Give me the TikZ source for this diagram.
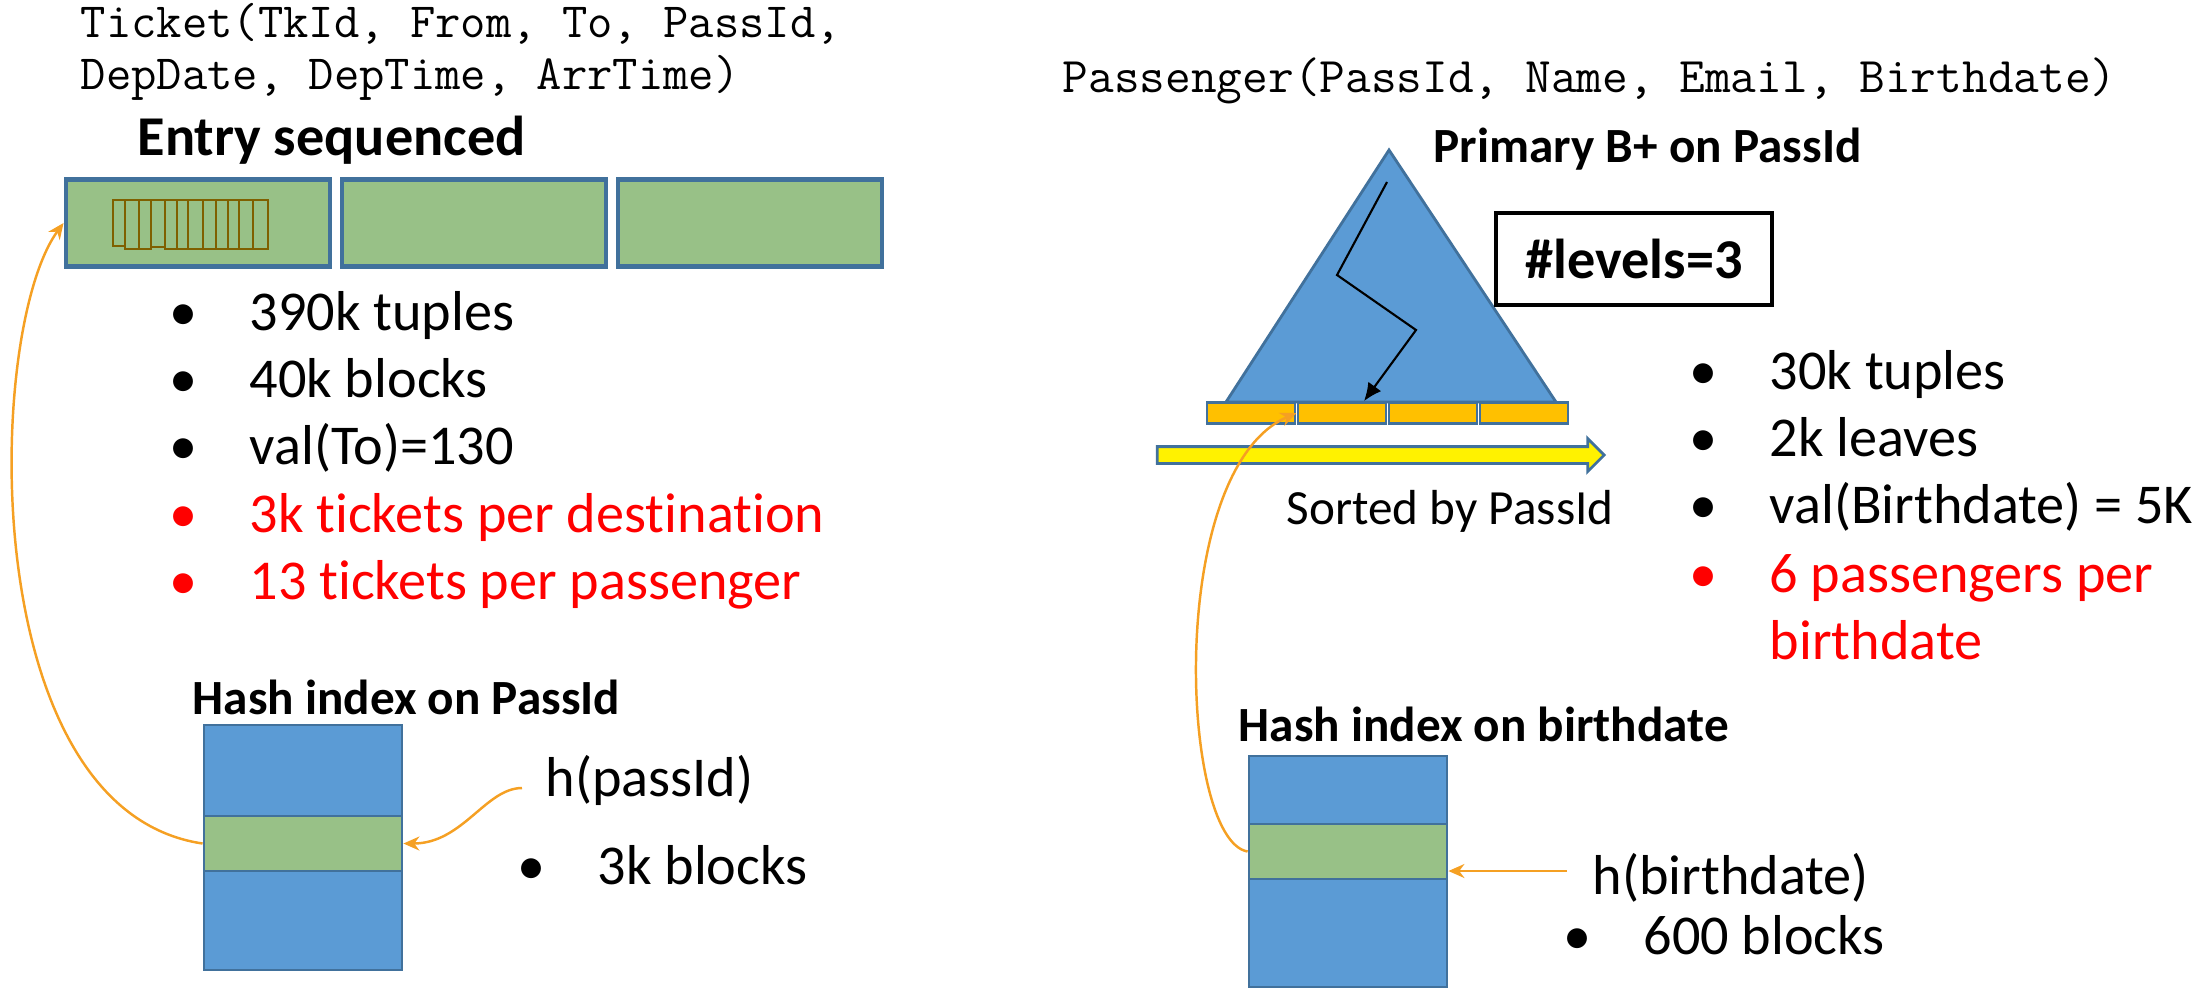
\documentclass[tikz,border=0pt]{standalone}
\usepackage{fontspec}
\setmainfont{Carlito}[Ligatures=NoCommon]
\usepackage{tikz}
\usetikzlibrary{positioning,shapes.arrows,arrows.meta}

\definecolor{rimblue}{RGB}{65,113,156}
\definecolor{treeblue}{RGB}{91,155,213}
\definecolor{pagegreen}{RGB}{152,193,135}
\definecolor{leafgold}{RGB}{255,192,0}
\definecolor{ptrorange}{RGB}{245,160,35}
\definecolor{tupleolive}{RGB}{127,96,0}

\newcommand{\bul}{\llap{\textbullet\hspace{5.2mm}}}

\tikzset{
  schema/.style={anchor=west, inner sep=0pt, font=\fontsize{14}{16}\ttfamily, text height=0.7em, text depth=0.2em},
  heading/.style={anchor=west, inner sep=0pt, font=\fontsize{14}{16}\bfseries, text height=0.7em, text depth=0.2em},
  fact/.style={anchor=west, inner sep=0pt, font=\fontsize{16}{19}\selectfont, text height=0.7em, text depth=0.2em},
  page/.style={draw=rimblue, line width=1.4pt, fill=pagegreen, minimum width=26.4mm, minimum height=8.7mm, inner sep=0pt},
  bucket/.style={draw=rimblue, line width=0.8pt, fill=treeblue, minimum width=19.8mm, inner sep=0pt},
  slot/.style={draw=rimblue, line width=0.8pt, fill=pagegreen, minimum width=19.8mm, minimum height=5.5mm, inner sep=0pt},
  leaf/.style={draw=rimblue, line width=0.8pt, fill=leafgold, minimum width=8.8mm, minimum height=2.1mm, inner sep=0pt},
  ptr/.style={draw=ptrorange, line width=0.7pt, -{Stealth[length=1.6mm,width=1.4mm]}},
}

\begin{document}
\begin{tikzpicture}[x=0.1mm, y=-0.1mm]
\useasboundingbox (0,0) rectangle (2196,1000);

% Ticket file, entry sequenced
\node[schema] (tkt1) at (80,29) {Ticket(TkId, From, To, PassId,};
\node[schema] (tkt2) at (80,81) {DepDate, DepTime, ArrTime)};
\node[heading, font=\fontsize{16}{18}\bfseries] (entry) at (137,147) {Entry sequenced};
\node[page] (pg1) at (198,223) {};
\node[page, on grid, right=27.6mm of pg1] (pg2) {};
\node[page, on grid, right=27.6mm of pg2] (pg3) {};
\foreach \a/\b/\d in {113/125/246, 125/139/249, 139/151/249, 151/165/247, 165/177/249, 177/188/249,
                      188/203/249, 203/216/249, 216/228/249, 228/239/249, 239/253/249, 253/268/249}
  \draw[tupleolive, line width=0.4pt] (\a,200) rectangle (\b,\d);

\foreach \c/\t [count=\i] in {black/390k tuples, black/40k blocks, black/val(To)=130,
                              red/3k tickets per destination, red/13 tickets per passenger}
  \node[fact, text=\c] (tf\i) at (249,254+67.3*\i) {\bul\t};

% hash index on PassId
\node[heading] (hashL) at (192,706) {Hash index on PassId};
\node[bucket, minimum height=24.5mm] (bktL) at (303,847.5) {};
\node[slot] (slotL) at (303,843.5) {};
\node[fact] (hpass) at (545,788) {h(passId)};
\node[fact] (blkL) at (597,876) {\bul 3k blocks};
\draw[ptr, shorten <=2.3mm] (hpass.west) to[out=180, in=0] (slotL.east);
\draw[ptr] (slotL.west) .. controls (-25,810) and (-15,330) .. (pg1.west);

% Passenger file, primary B+ tree
\node[schema, font=\fontsize{14.2}{16}\ttfamily] (pass) at (1062,84) {Passenger(PassId, Name, Email, Birthdate)};
\node[heading] (prim) at (1433,154) {Primary B+ on PassId};
\coordinate (apex) at (1389,150);
\coordinate (baseL) at (1226,402);
\coordinate (baseR) at (1556,402);
\draw[rimblue, fill=treeblue, line width=0.8pt] (apex) -- (baseL) -- (baseR) -- cycle;
\node[draw=black, line width=1pt, fill=white, minimum width=27.6mm, minimum height=9.2mm,
      font=\fontsize{16}{19}\bfseries] (lvls) at (1634,259) {\#levels=3};
\node[leaf] (lf1) at (1251,413) {};
\node[leaf, on grid, right=9.1mm of lf1] (lf2) {};
\node[leaf, on grid, right=9.1mm of lf2] (lf3) {};
\node[leaf, on grid, right=9.1mm of lf3] (lf4) {};
\coordinate (root) at (1387,182);
\coordinate (inner1) at (1337,275);
\coordinate (inner2) at (1416,330);
\draw[line width=0.6pt, -{Latex[length=1.8mm,width=1.6mm]}] (root) -- (inner1) -- (inner2) -- ([xshift=2.2mm]lf2.north);
\node[single arrow, draw=rimblue, fill=yellow, line width=0.8pt, inner sep=0pt, inner ysep=0.7mm,
      minimum height=44.7mm, single arrow head extend=0.8mm] (sortarr) at (1376.5,455) {};
\node[fact, font=\fontsize{14}{16}\selectfont] (sorted) at (1286,516) {Sorted by PassId};

\foreach \t [count=\i] in {30k tuples, 2k leaves, val(Birthdate) = 5K}
  \node[fact] (pf\i) at (1769,314+67*\i) {\bul\t};
\node[anchor=west, inner sep=0pt, align=left, text=red, font=\fontsize{16}{19}\selectfont] (pf4) at (1769,607) {\bul 6 passengers per\\birthdate};

% hash index on birthdate
\node[heading] (hashR) at (1238,733) {Hash index on birthdate};
\node[bucket, minimum height=23.1mm] (bktR) at (1348,871.5) {};
\node[slot] (slotR) at (1348,851.5) {};
\node[fact] (hbirth) at (1592,886) {h(birthdate)};
\node[fact] (blkR) at (1643,946) {\bul 600 blocks};
\draw[ptr, shorten <=2.5mm] ([yshift=1.5mm]hbirth.west) -- ([yshift=1.5mm]hbirth.west -| slotR.east);
\draw[ptr] (slotR.west) .. controls (1180,840) and (1165,470) .. (lf1.east);
\end{tikzpicture}
\end{document}
